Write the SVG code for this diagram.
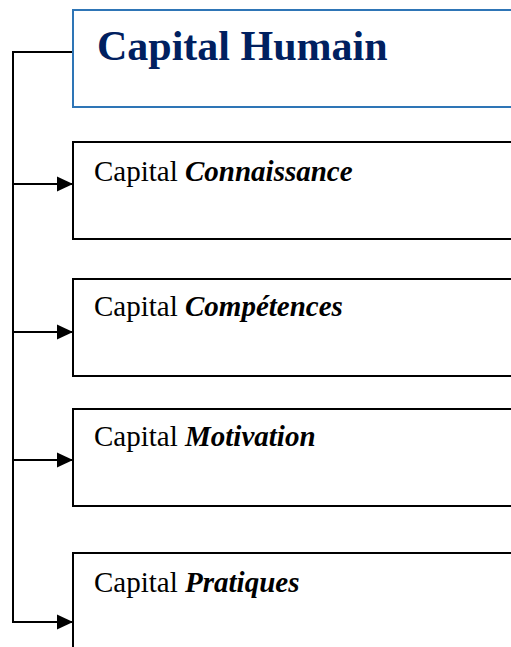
<svg xmlns="http://www.w3.org/2000/svg" width="511" height="647" viewBox="0 0 511 647">
  <style>
    .box { fill: #ffffff; stroke: #000000; stroke-width: 2; }
    .head { fill: #ffffff; stroke: #2E75B6; stroke-width: 2; }
    .wire { fill: none; stroke: #000000; stroke-width: 2; }
    .title { font-family: "Liberation Serif", "Times New Roman", serif; font-size: 42px; font-weight: bold; fill: #002060; }
    .label { font-family: "Liberation Serif", "Times New Roman", serif; font-size: 29px; fill: #000000; }
    .label tspan.em { font-weight: bold; font-style: italic; }
  </style>
  <defs>
    <marker id="arrow" markerUnits="userSpaceOnUse" markerWidth="16" markerHeight="16" refX="16" refY="8" orient="auto">
      <path d="M0,0.5 L16,8 L0,15.5 Z" fill="#000000"/>
    </marker>
  </defs>

  <rect width="511" height="647" fill="#ffffff"/>

  <g id="connectors">
    <path class="wire" d="M73,52 H13 V622"/>
    <line class="wire" x1="13" y1="184" x2="73" y2="184" marker-end="url(#arrow)"/>
    <line class="wire" x1="13" y1="332" x2="73" y2="332" marker-end="url(#arrow)"/>
    <line class="wire" x1="13" y1="460" x2="73" y2="460" marker-end="url(#arrow)"/>
    <line class="wire" x1="12" y1="622" x2="73" y2="622" marker-end="url(#arrow)"/>
  </g>

  <g id="capital-humain">
    <rect class="head" x="73" y="10" width="460" height="97"/>
    <text class="title" x="97" y="60">Capital Humain</text>
  </g>

  <g id="capital-connaissance">
    <rect class="box" x="73" y="142" width="460" height="97"/>
    <text class="label" x="94" y="181">Capital <tspan class="em">Connaissance</tspan></text>
  </g>

  <g id="capital-competences">
    <rect class="box" x="73" y="279" width="460" height="97"/>
    <text class="label" x="94" y="316">Capital <tspan class="em">Compétences</tspan></text>
  </g>

  <g id="capital-motivation">
    <rect class="box" x="73" y="409" width="460" height="97"/>
    <text class="label" x="94" y="446">Capital <tspan class="em">Motivation</tspan></text>
  </g>

  <g id="capital-pratiques">
    <rect class="box" x="73" y="553" width="460" height="120"/>
    <text class="label" x="94" y="592">Capital <tspan class="em">Pratiques</tspan></text>
  </g>
</svg>
